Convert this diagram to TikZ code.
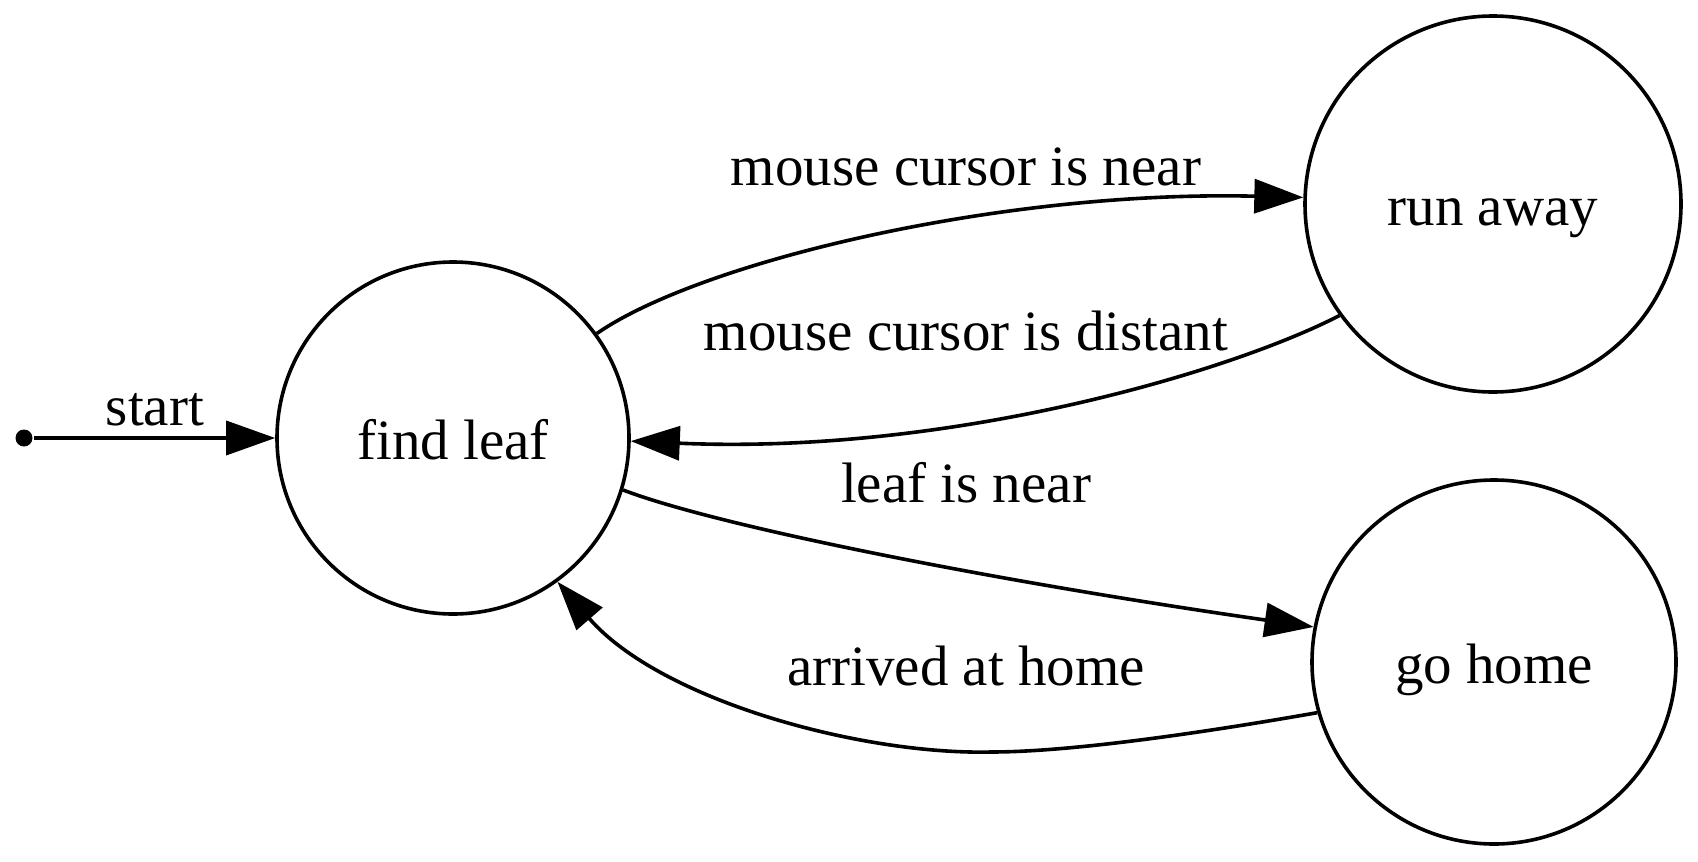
\documentclass[tikz,border=0pt]{standalone}
\usepackage{fontspec}
\setmainfont{Liberation Serif}
\usetikzlibrary{arrows.meta}
\begin{document}
\begin{tikzpicture}[x=1pt,y=-1pt,line width=3.6pt,
  state/.style={circle,draw,minimum size=#1,inner sep=0pt,text height=42pt,text depth=0pt,font=\fontsize{57}{60}\selectfont},
  lbl/.style={anchor=base,inner sep=0pt,font=\fontsize{57}{60}\selectfont},
  edge/.style={-{Triangle[length=49pt,width=34pt]}}]
\useasboundingbox (0,0) rectangle (1698,862);
\node[state=352pt] (fl) at (453,438) {find leaf};
\node[state=376pt] (ra) at (1493,204) {run away};
\node[state=364pt] (gh) at (1494,662) {go home};
\node[circle,fill,minimum size=17pt,inner sep=0pt] (s) at (24,438) {};
\draw[edge] (s) -- (fl);
\node[lbl] (ls) at (155,425) {start};
\draw[edge] (fl.36) .. controls (700,262) and (1000,190) .. (ra.178.5);
\node[lbl] (l1) at (966,185) {mouse cursor is near};
\draw[edge] (ra.216) .. controls (1230,372) and (950,455) .. (fl.-1.5);
\node[lbl] (l2) at (966,350) {mouse cursor is distant};
\draw[edge] (fl.-17.7) .. controls (720,527) and (1000,582) .. (gh.169.4);
\node[lbl] (l3) at (966,502) {leaf is near};
\draw[edge] (gh.196) .. controls (1230,728) and (1080,752) .. (991,752) .. controls (860,755) and (660,700) .. (fl.-54);
\node[lbl] (l4) at (966,685) {arrived at home};
\end{tikzpicture}
\end{document}
